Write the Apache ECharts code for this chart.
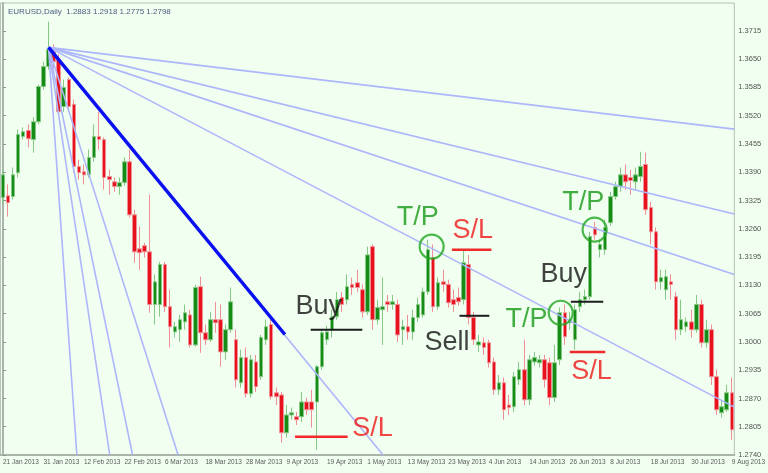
<!DOCTYPE html>
<html>
<head>
<meta charset="utf-8">
<script src="https://cdn.jsdelivr.net/npm/echarts@6/dist/echarts.min.js"></script>
<style>
  html, body { margin: 0; padding: 0; background: #f0fff0; }
  #chart { width: 768px; height: 473px; }
</style>
</head>
<body>
<div id="chart"></div>
<script>
// daily bars, [open, close, low, high]
const candles = [
  [1.3332, 1.3384, 1.3316, 1.3396], [1.3336, 1.3320, 1.3288, 1.3362], [1.3334, 1.3384, 1.3327, 1.3401],
  [1.3389, 1.3477, 1.3378, 1.3488], [1.3472, 1.3483, 1.3465, 1.3493], [1.3486, 1.3467, 1.3447, 1.3500],
  [1.3465, 1.3506, 1.3435, 1.3516], [1.3506, 1.3587, 1.3500, 1.3592], [1.3587, 1.3633, 1.3580, 1.3644],
  [1.3633, 1.3672, 1.3626, 1.3736], [1.3667, 1.3644, 1.3626, 1.3684], [1.3649, 1.3529, 1.3522, 1.3661],
  [1.3541, 1.3585, 1.3529, 1.3603], [1.3603, 1.3541, 1.3529, 1.3608], [1.3546, 1.3403, 1.3389, 1.3557],
  [1.3403, 1.3389, 1.3373, 1.3419], [1.3391, 1.3384, 1.3362, 1.3408], [1.3384, 1.3424, 1.3378, 1.3442],
  [1.3424, 1.3472, 1.3414, 1.3500], [1.3472, 1.3465, 1.3442, 1.3529], [1.3465, 1.3378, 1.3350, 1.3470],
  [1.3380, 1.3373, 1.3338, 1.3396], [1.3368, 1.3357, 1.3345, 1.3378], [1.3357, 1.3366, 1.3338, 1.3378],
  [1.3366, 1.3414, 1.3359, 1.3424], [1.3414, 1.3292, 1.3286, 1.3442], [1.3292, 1.3207, 1.3182, 1.3304],
  [1.3214, 1.3205, 1.3166, 1.3265], [1.3221, 1.3207, 1.3194, 1.3228], [1.3207, 1.3086, 1.3067, 1.3338],
  [1.3086, 1.3138, 1.3040, 1.3155], [1.3086, 1.3178, 1.3058, 1.3184], [1.3178, 1.3081, 1.3069, 1.3184],
  [1.3081, 1.3035, 1.2987, 1.3120], [1.3023, 1.3035, 1.3010, 1.3046], [1.3028, 1.3051, 1.3000, 1.3062],
  [1.3046, 1.3067, 1.3028, 1.3086], [1.3062, 1.2993, 1.2987, 1.3074], [1.2993, 1.3125, 1.2989, 1.3131],
  [1.3127, 1.3021, 1.2975, 1.3150], [1.3021, 1.3005, 1.2993, 1.3040], [1.3005, 1.3051, 1.3000, 1.3069],
  [1.3051, 1.3044, 1.3021, 1.3092], [1.3051, 1.2977, 1.2943, 1.3086], [1.2977, 1.3028, 1.2959, 1.3040],
  [1.3028, 1.3092, 1.3021, 1.3125], [1.3005, 1.2913, 1.2895, 1.3028], [1.2906, 1.2964, 1.2895, 1.2982],
  [1.2964, 1.2881, 1.2872, 1.2987], [1.2881, 1.2959, 1.2872, 1.2970], [1.2954, 1.2897, 1.2885, 1.2970],
  [1.2920, 1.3010, 1.2913, 1.3016], [1.3005, 1.3035, 1.2993, 1.3051], [1.3040, 1.2874, 1.2867, 1.3051],
  [1.2883, 1.2874, 1.2855, 1.2895], [1.2878, 1.2791, 1.2768, 1.2885], [1.2791, 1.2832, 1.2780, 1.2855],
  [1.2832, 1.2837, 1.2821, 1.2849], [1.2828, 1.2821, 1.2809, 1.2839], [1.2828, 1.2862, 1.2816, 1.2885],
  [1.2862, 1.2844, 1.2832, 1.2872], [1.2862, 1.2844, 1.2803, 1.2890], [1.2862, 1.2943, 1.2752, 1.2947],
  [1.2943, 1.3021, 1.2936, 1.3028], [1.3005, 1.3023, 1.2993, 1.3037], [1.3028, 1.3058, 1.3010, 1.3074],
  [1.3058, 1.3097, 1.3051, 1.3115], [1.3102, 1.3086, 1.3069, 1.3115], [1.3097, 1.3127, 1.3086, 1.3155],
  [1.3132, 1.3125, 1.3108, 1.3148], [1.3136, 1.3125, 1.3115, 1.3166], [1.3120, 1.3069, 1.3056, 1.3132],
  [1.3069, 1.3200, 1.3062, 1.3219], [1.3219, 1.3051, 1.3028, 1.3224], [1.3051, 1.3079, 1.3040, 1.3097],
  [1.3074, 1.3081, 1.2993, 1.3148], [1.3092, 1.3086, 1.3069, 1.3108], [1.3086, 1.3092, 1.3074, 1.3108],
  [1.3086, 1.3016, 1.3000, 1.3097], [1.3028, 1.3035, 1.2993, 1.3051], [1.3035, 1.3023, 1.3005, 1.3062],
  [1.3023, 1.3056, 1.3005, 1.3074], [1.3056, 1.3086, 1.3046, 1.3102], [1.3062, 1.3115, 1.3056, 1.3125],
  [1.3115, 1.3212, 1.3108, 1.3235], [1.3194, 1.3081, 1.3069, 1.3224], [1.3081, 1.3136, 1.3074, 1.3148],
  [1.3138, 1.3132, 1.3115, 1.3166], [1.3132, 1.3090, 1.3079, 1.3143], [1.3097, 1.3086, 1.3069, 1.3120],
  [1.3102, 1.3092, 1.3083, 1.3125], [1.3097, 1.3182, 1.3086, 1.3212], [1.3178, 1.3056, 1.3040, 1.3200],
  [1.3056, 1.3005, 1.2993, 1.3069], [1.2993, 1.3000, 1.2977, 1.3016], [1.2998, 1.2987, 1.2970, 1.3010],
  [1.2998, 1.2952, 1.2941, 1.3005], [1.2954, 1.2890, 1.2878, 1.2964], [1.2890, 1.2906, 1.2878, 1.2924],
  [1.2906, 1.2844, 1.2821, 1.2918], [1.2855, 1.2849, 1.2832, 1.2878], [1.2851, 1.2920, 1.2839, 1.2931],
  [1.2913, 1.2936, 1.2901, 1.2954], [1.2936, 1.2867, 1.2855, 1.3005], [1.2867, 1.2959, 1.2855, 1.2970],
  [1.2954, 1.2964, 1.2945, 1.2977], [1.2952, 1.2959, 1.2941, 1.2970], [1.2959, 1.2913, 1.2895, 1.2970],
  [1.2952, 1.2872, 1.2855, 1.2964], [1.2872, 1.2952, 1.2862, 1.2993], [1.2959, 1.3067, 1.2947, 1.3079],
  [1.3067, 1.3012, 1.2993, 1.3086], [1.3044, 1.3051, 1.3028, 1.3069], [1.3005, 1.3074, 1.2982, 1.3086],
  [1.3081, 1.3097, 1.3069, 1.3115], [1.3097, 1.3104, 1.3086, 1.3120], [1.3104, 1.3242, 1.3097, 1.3253],
  [1.3263, 1.3246, 1.3235, 1.3276], [1.3212, 1.3224, 1.3194, 1.3235], [1.3212, 1.3263, 1.3200, 1.3281],
  [1.3274, 1.3334, 1.3267, 1.3345], [1.3334, 1.3357, 1.3327, 1.3368], [1.3357, 1.3384, 1.3345, 1.3401],
  [1.3384, 1.3368, 1.3350, 1.3408], [1.3378, 1.3371, 1.3338, 1.3396], [1.3368, 1.3384, 1.3350, 1.3401],
  [1.3380, 1.3403, 1.3368, 1.3437], [1.3408, 1.3304, 1.3292, 1.3435], [1.3309, 1.3253, 1.3224, 1.3322],
  [1.3253, 1.3138, 1.3120, 1.3263], [1.3138, 1.3148, 1.3120, 1.3166], [1.3120, 1.3150, 1.3097, 1.3166],
  [1.3138, 1.3132, 1.3097, 1.3155], [1.3104, 1.3028, 1.3005, 1.3115], [1.3028, 1.3051, 1.3016, 1.3097],
  [1.3035, 1.3046, 1.3023, 1.3056], [1.3046, 1.3028, 1.3010, 1.3074], [1.3028, 1.3086, 1.3021, 1.3108],
  [1.3086, 1.2998, 1.2987, 1.3097], [1.2998, 1.3028, 1.2987, 1.3051], [1.3028, 1.2920, 1.2901, 1.3040],
  [1.2920, 1.2844, 1.2832, 1.2936], [1.2837, 1.2851, 1.2826, 1.2867], [1.2844, 1.2883, 1.2839, 1.2901],
  [1.2883, 1.2798, 1.2775, 1.2918]
];

// one date label every 8 bars
const dateLabels = [
  '21 Jan 2013', '31 Jan 2013', '12 Feb 2013', '22 Feb 2013', '6 Mar 2013', '18 Mar 2013',
  '28 Mar 2013', '9 Apr 2013', '19 Apr 2013', '1 May 2013', '13 May 2013', '23 May 2013',
  '4 Jun 2013', '14 Jun 2013', '26 Jun 2013', '8 Jul 2013', '18 Jul 2013', '30 Jul 2013', '9 Aug 2013'
];

const priceMin = 1.2740;
const priceMax = 1.3779;
const priceStep = 0.0065;

// gann fan: anchor [bar, price] and where each ray leaves the chart
const fanOrigin = [9, 1.3677];
const fanRayEnds = [
  [144.5, 1.3489], [144.5, 1.3294], [144.5, 1.3155], [144.5, 1.2850],
  [75.1, 1.2740], [34.6, 1.2740], [25.6, 1.2740], [21.1, 1.2740], [14.6, 1.2740]
];
const mainRayEnd = [55.7, 1.3017];

// trade marks [label, bar, price]
const tpNotes = [['T/P', 77.9, 1.3309], ['T/P', 99.4, 1.3074], ['T/P', 110.6, 1.3343]];
const slNotes = [['S/L', 88.9, 1.3279], ['S/L', 69.1, 1.2823], ['S/L', 112.4, 1.2954]];
const orderNotes = [['Buy', 57.9, 1.3104], ['Sell', 83.4, 1.3021], ['Buy', 106.3, 1.3178]];
// levels [fromBar, toBar, price]
const slLevels = [[88.7, 96.5, 1.3212], [57.7, 68.1, 1.2782], [112.0, 119.0, 1.2977]];
const orderLevels = [[60.8, 71.0, 1.3028], [90.2, 96.1, 1.3060], [112.2, 118.6, 1.3092]];
const tpCircles = [[84.7, 1.3219], [110.2, 1.3067], [116.9, 1.3258]];

const chart = echarts.init(document.getElementById('chart'));

const noteFont = "'Liberation Sans', Arial, sans-serif";
const smallFont = "'Liberation Sans', Arial, sans-serif";

function segment(a, b, style, z) {
  return {
    type: 'line', xAxisIndex: 1, yAxisIndex: 0, data: [a, b],
    symbol: 'none', lineStyle: style, z: z, silent: true
  };
}

function notesSeries(list, color) {
  return {
    type: 'scatter', xAxisIndex: 1, yAxisIndex: 0, symbolSize: 1,
    itemStyle: { color: 'rgba(0,0,0,0)' },
    data: list.map(n => ({ name: n[0], value: [n[1], n[2]] })),
    label: {
      show: true, position: [0, 0], align: 'left', verticalAlign: 'top', offset: [0, -3],
      formatter: p => p.name, color: color, fontSize: 27, lineHeight: 27, fontFamily: noteFont
    },
    z: 12
  };
}

const last = candles[candles.length - 1];

const series = [{
  type: 'candlestick',
  xAxisIndex: 0, yAxisIndex: 0,
  data: candles,
  barWidth: 4,
  itemStyle: {
    color: '#168c16', color0: '#e8121c',
    borderColor: '#86c886', borderColor0: '#f09096', borderWidth: 1
  },
  z: 2
}];

// fan rays
fanRayEnds.forEach(e => series.push(segment(fanOrigin, e, { color: '#adb6fa', width: 1.6 }, 4)));
series.push(segment(fanOrigin, mainRayEnd, { color: '#0a10f0', width: 3.5 }, 5));

slLevels.forEach(l => series.push(segment([l[0], l[2]], [l[1], l[2]], { color: '#f02a2a', width: 2.5 }, 8)));
orderLevels.forEach(l => series.push(segment([l[0], l[2]], [l[1], l[2]], { color: '#1c1c1c', width: 2 }, 8)));

series.push({
  type: 'scatter', xAxisIndex: 1, yAxisIndex: 0, symbol: 'circle', symbolSize: 24,
  data: tpCircles,
  itemStyle: { color: 'rgba(0,0,0,0)', borderColor: '#1fa51f', borderWidth: 2.2 },
  z: 9
});

series.push(notesSeries(tpNotes, '#179a17'));
series.push(notesSeries(slNotes, '#f01818'));
series.push(notesSeries(orderNotes, '#111111'));

chart.setOption({
  animation: false,
  backgroundColor: '#f0fff0',
  title: {
    text: 'EURUSD,Daily  ' + [last[0], last[3], last[2], last[1]].map(v => v.toFixed(4)).join(' '),
    left: 3, top: 3,
    textStyle: { fontSize: 8, fontWeight: 'normal', color: '#4d5b80', fontFamily: smallFont }
  },
  grid: {
    left: 0, right: 28, top: 3, bottom: 18,
    show: true, borderColor: '#b6c0b6', borderWidth: 1, backgroundColor: '#f0fff0'
  },
  xAxis: [{
    type: 'category',
    data: candles.map((c, i) => i),
    axisLine: { lineStyle: { color: '#aab4aa', width: 2 } },
    axisTick: { interval: 7, alignWithLabel: true, length: 3, lineStyle: { color: '#8c968c' } },
    axisLabel: {
      interval: 7, align: 'left', margin: 4, fontSize: 6.5, color: '#5a5a5a', fontFamily: smallFont,
      formatter: (v, i) => dateLabels[i / 8] || ''
    },
    splitLine: { show: false }
  }, {
    type: 'value', min: -0.5, max: candles.length - 0.5, show: false
  }],
  yAxis: {
    type: 'value', position: 'right',
    min: priceMin, max: priceMax, interval: priceStep,
    axisLine: { show: true, lineStyle: { color: '#aab4aa', width: 2 } },
    axisTick: { show: true, length: 3, lineStyle: { color: '#8c968c' } },
    axisLabel: {
      showMaxLabel: false, margin: 4, fontSize: 7.5, color: '#555', fontFamily: smallFont,
      formatter: v => v.toFixed(4)
    },
    splitLine: { show: false }
  },
  series: series
});
</script>
</body>
</html>
